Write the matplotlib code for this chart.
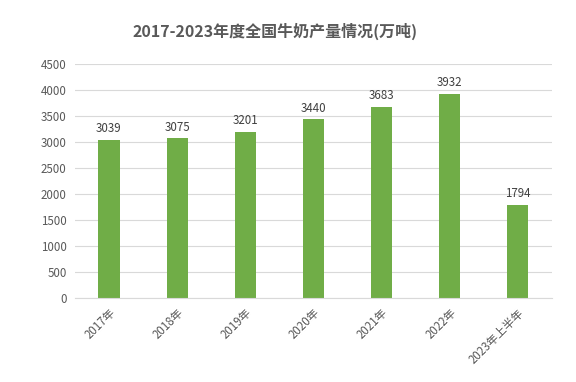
import matplotlib
matplotlib.use("Agg")
import matplotlib.pyplot as plt

plt.rcParams['font.family'] = ['Noto Sans CJK SC', 'DejaVu Sans']

categories = ["2017年", "2018年", "2019年", "2020年", "2021年", "2022年", "2023年上半年"]
values = [3039, 3075, 3201, 3440, 3683, 3932, 1794]
yticks = [0, 500, 1000, 1500, 2000, 2500, 3000, 3500, 4000, 4500]

fig = plt.figure(figsize=(5.76, 3.82), dpi=100)
ax = fig.add_axes([0.130, 0.220, 0.828, 0.612])

x = range(len(categories))
bars = ax.bar(x, values, width=0.31, color="#70AD47", zorder=2)

for xi, v in zip(x, values):
    ax.text(xi, v + 90, str(v), ha="center", va="bottom", fontsize=8.3, color="#404040")

ax.set_ylim(0, 4500)
ax.set_xlim(-0.5, len(categories) - 0.5)
ax.set_yticks(yticks)
ax.set_yticklabels([str(t) for t in yticks], fontsize=8.3, color="#595959")
ax.set_xticks(list(x))
ax.set_xticklabels(categories, rotation=45, ha="right", rotation_mode="anchor",
                   fontsize=8.3, color="#595959")
ax.tick_params(length=0, pad=6)
ax.yaxis.grid(True, color="#D9D9D9", linewidth=0.8, zorder=0)
ax.set_axisbelow(True)
for s in ["top", "right", "left"]:
    ax.spines[s].set_visible(False)
ax.spines["bottom"].set_color("#D9D9D9")

fig.suptitle("2017-2023年度全国牛奶产量情况(万吨)", x=0.477, y=0.94, fontsize=11.5,
             fontweight="bold", color="#595959")

fig.savefig("out.png", dpi=100)
